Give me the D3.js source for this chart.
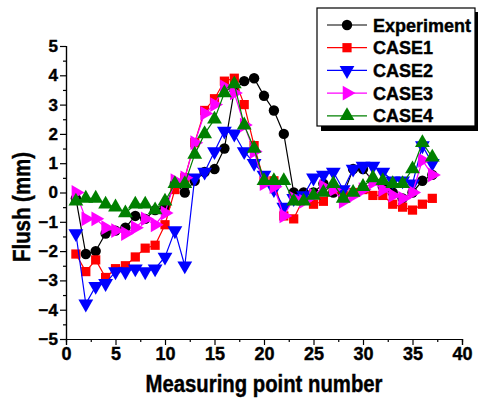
<!DOCTYPE html>
<html>
<head>
<meta charset="utf-8">
<script src="https://cdn.jsdelivr.net/npm/d3@7"></script>
<style>
  body { margin: 0; background: #fff; }
  svg text { font-family: "Liberation Sans", Arial, sans-serif; font-weight: bold; stroke: #000; stroke-width: 0.4px; }
</style>
</head>
<body>
<div id="viz"></div>
<script>
// measuring points 1..37
var points = d3.range(1, 38);

var experiment = [-0.2, -2.1, -2.0, -1.4, -1.3, -1.2, -0.8, -0.9, -0.6, -0.5,
  0.3, 0.0, 0.4, 0.7, 0.8, 1.5, 3.5, 3.8, 3.9, 3.3, 2.8, 2.0, 0.0, 0.0, 0.0,
  0.3, 0.0, -0.1, 0.8, 0.8, 0.4, 0.2, 0.0, -0.2, 0.0, 0.4, 0.6];
var case1 = [-2.1, -2.7, -2.3, -2.9, -2.6, -2.5, -2.2, -1.9, -1.8, -1.1,
  0.1, 0.5, 1.7, 2.8, 3.2, 3.8, 3.9, 3.0, 1.6, 0.4, 0.4, -0.8, -0.9, -0.2, -0.4,
  -0.3, 0.1, -0.1, 0.0, 0.1, -0.1, -0.1, -0.4, -0.5, -0.6, -0.4, -0.2];
var case2 = [-1.4, -3.8, -3.2, -3.1, -2.7, -2.7, -2.6, -2.7, -2.6, -2.2,
  -1.3, -2.5, 0.5, 0.7, 1.4, 2.1, 2.0, 1.4, 1.0, 0.6, 0.1, -0.5, -0.2, -0.1, 0.5,
  0.6, 0.7, 0.1, 0.8, 0.9, 0.9, 0.7, 0.4, 0.4, 0.3, 1.6, 1.0];
var case3 = [0.0, -0.9, -0.9, -1.2, -1.3, -1.4, -1.2, -0.9, -1.1, -0.7,
  0.4, 0.5, 1.7, 2.7, 3.0, 3.6, 3.4, 2.3, 1.4, 0.3, 0.2, -0.8, -0.2, -0.3, -0.1,
  0.2, 0.1, -0.3, -0.1, 0.1, 0.35, 0.1, -0.1, -0.2, 0.0, 1.1, 0.6];
var case4 = [-0.3, -0.2, -0.2, -0.4, -0.5, -0.7, -0.4, -0.4, -0.6, -0.3,
  0.3, 0.3, 1.3, 2.0, 2.5, 3.4, 3.7, 2.3, 1.5, 0.4, 0.4, 0.4, -0.3, -0.3, -0.1,
  0.0, 0.3, -0.2, 0.0, 0.2, 0.5, 0.4, 0.3, 0.3, 0.8, 1.7, 1.2];

var seriesNames = ["Experiment", "CASE1", "CASE2", "CASE3", "CASE4"];
var seriesColors = ["#000000", "#ff0000", "#0000ff", "#ff00ff", "#008000"];
var xTicks = [0, 5, 10, 15, 20, 25, 30, 35, 40];
var yTicks = [-5, -4, -3, -2, -1, 0, 1, 2, 3, 4, 5];

var seriesValues = [experiment, case1, case2, case3, case4];
var symbols = [
  {type: d3.symbolCircle, size: 85, rotate: 0},
  {type: d3.symbolSquare, size: 85, rotate: 0},
  {type: d3.symbolTriangle, size: 95, rotate: 180},
  {type: d3.symbolTriangle, size: 95, rotate: 90},
  {type: d3.symbolTriangle, size: 95, rotate: 0}
];

var width = 478, height = 398;

var svg = d3.select("#viz")
  .append("svg")
  .attr("width", width)
  .attr("height", height);

var xScale = d3.scaleLinear().domain([0, 40]).range([66, 462]),
    yScale = d3.scaleLinear().domain([-5, 5]).range([339, 46]);

// x axis with minor ticks
svg.append("g")
  .attr("transform", "translate(0,339)")
  .call(d3.axisBottom(xScale).tickValues(d3.range(2.5, 40, 5)).tickSize(3).tickFormat(""));
var xAxis = svg.append("g")
  .attr("class", "axis axis--x")
  .attr("transform", "translate(0,339)")
  .call(d3.axisBottom(xScale).tickValues(xTicks).tickSize(6).tickPadding(2));
xAxis.selectAll("text").attr("font-size", 18).attr("fill", "#000");

// y axis with minor ticks
svg.append("g")
  .attr("transform", "translate(66,0)")
  .call(d3.axisLeft(yScale).tickValues(d3.range(-4.5, 5, 1)).tickSize(3).tickFormat(""));
var yAxis = svg.append("g")
  .attr("class", "axis axis--y")
  .attr("transform", "translate(66,0)")
  .call(d3.axisLeft(yScale).tickValues(yTicks).tickSize(6).tickPadding(2));
yAxis.selectAll("text").attr("font-size", 17).attr("fill", "#000");

svg.selectAll(".domain").attr("stroke", "#000").attr("stroke-width", 1.2);
svg.selectAll(".tick line").attr("stroke", "#000").attr("stroke-width", 1.2);

// axis titles
svg.append("text")
  .attr("x", 264).attr("y", 392)
  .attr("text-anchor", "middle")
  .attr("font-size", 23)
  .attr("textLength", 237).attr("lengthAdjust", "spacingAndGlyphs")
  .text("Measuring point number");

svg.append("text")
  .attr("transform", "translate(30,207) rotate(-90)")
  .attr("text-anchor", "middle")
  .attr("font-size", 23)
  .attr("textLength", 110).attr("lengthAdjust", "spacingAndGlyphs")
  .text("Flush (mm)");

// series
var line = d3.line()
  .x(function(d, i) { return xScale(points[i]); })
  .y(function(d) { return yScale(d); });

seriesValues.forEach(function(vals, s) {
  var g = svg.append("g");
  g.append("path")
    .datum(vals)
    .attr("fill", "none")
    .attr("stroke", seriesColors[s])
    .attr("stroke-width", 1.2)
    .attr("d", line);
  var sym = d3.symbol().type(symbols[s].type).size(symbols[s].size);
  g.selectAll("path.mark")
    .data(vals)
    .enter().append("path")
    .attr("class", "mark")
    .attr("d", sym)
    .attr("fill", seriesColors[s])
    .attr("transform", function(d, i) {
      return "translate(" + xScale(points[i]) + "," + yScale(d) + ") rotate(" + symbols[s].rotate + ")";
    });
});

// legend
var legend = svg.append("g");
legend.append("rect")
  .attr("x", 321).attr("y", 12).attr("width", 159).attr("height", 119)
  .attr("fill", "#000");
legend.append("rect")
  .attr("x", 317).attr("y", 8).attr("width", 158).attr("height", 118)
  .attr("fill", "#fff").attr("stroke", "#000").attr("stroke-width", 1.2);

seriesNames.forEach(function(name, s) {
  var y = 25 + s * 22.7;
  legend.append("line")
    .attr("x1", 327).attr("x2", 367).attr("y1", y).attr("y2", y)
    .attr("stroke", seriesColors[s]).attr("stroke-width", 1.2);
  legend.append("path")
    .attr("d", d3.symbol().type(symbols[s].type).size(symbols[s].size)())
    .attr("fill", seriesColors[s])
    .attr("transform", "translate(347," + y + ") rotate(" + symbols[s].rotate + ")");
  legend.append("text")
    .attr("x", 373).attr("y", y + 6.5)
    .attr("font-size", 18)
    .text(name);
});
</script>
</body>
</html>
